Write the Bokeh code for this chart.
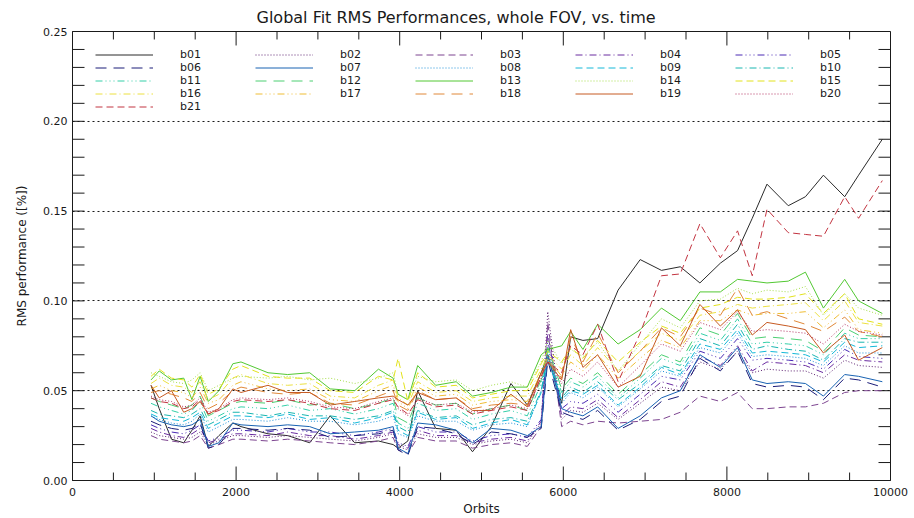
from bokeh.plotting import figure
from bokeh.models import (FixedTicker, Legend, LegendItem, Range1d,
                          NumeralTickFormatter)
from bokeh.embed import file_html
from bokeh.resources import INLINE

FONT = "DejaVu Sans"
INK = "#1a1a1a"

# Orbit numbers of the sampled fits
orbits = [960, 1060, 1210, 1360, 1460, 1560, 1660, 1790, 1960, 2060,
          2390, 2630, 2900, 3150, 3450, 3740, 3920, 3980, 4100, 4220,
          4440, 4690, 4890, 5120, 5360, 5560, 5730, 5810, 5980, 6090,
          6240, 6420, 6670, 6940, 7200, 7430, 7670, 7920, 8130, 8310,
          8490, 8750, 8960, 9180, 9440, 9610, 9900]

bands = ["b01", "b02", "b03", "b04", "b05", "b06", "b07", "b08", "b09", "b10",
         "b11", "b12", "b13", "b14", "b15", "b16", "b17", "b18", "b19", "b20", "b21"]

# RMS performance [%] per band
b01 = [0.053, 0.040, 0.023, 0.021, 0.028, 0.036, 0.019, 0.025, 0.032, 0.030,
       0.026, 0.025, 0.021, 0.036, 0.021, 0.022, 0.020, 0.018, 0.022, 0.050,
       0.029, 0.028, 0.016, 0.030, 0.054, 0.042, 0.060, 0.070, 0.043, 0.080,
       0.078, 0.079, 0.106, 0.123, 0.117, 0.119, 0.110, 0.121, 0.128, 0.146,
       0.165, 0.153, 0.158, 0.170, 0.158, 0.170, 0.190]
b02 = [0.027, 0.025, 0.024, 0.023, 0.024, 0.027, 0.020, 0.022, 0.025, 0.025,
       0.024, 0.025, 0.024, 0.023, 0.022, 0.024, 0.026, 0.019, 0.017, 0.026,
       0.024, 0.024, 0.020, 0.022, 0.023, 0.021, 0.032, 0.094, 0.034, 0.039,
       0.038, 0.043, 0.034, 0.043, 0.052, 0.050, 0.066, 0.062, 0.072, 0.060,
       0.062, 0.061, 0.061, 0.057, 0.067, 0.064, 0.063]
b03 = [0.025, 0.023, 0.022, 0.021, 0.022, 0.025, 0.018, 0.020, 0.023, 0.023,
       0.022, 0.023, 0.022, 0.021, 0.020, 0.022, 0.024, 0.017, 0.015, 0.024,
       0.022, 0.022, 0.018, 0.020, 0.021, 0.019, 0.030, 0.088, 0.030, 0.033,
       0.031, 0.033, 0.032, 0.033, 0.034, 0.038, 0.047, 0.044, 0.049, 0.040,
       0.040, 0.041, 0.041, 0.043, 0.049, 0.050, 0.050]
b04 = [0.029, 0.027, 0.025, 0.024, 0.026, 0.029, 0.021, 0.023, 0.026, 0.026,
       0.025, 0.027, 0.025, 0.025, 0.023, 0.025, 0.027, 0.020, 0.018, 0.028,
       0.025, 0.025, 0.021, 0.023, 0.024, 0.022, 0.033, 0.082, 0.036, 0.041,
       0.040, 0.045, 0.035, 0.045, 0.055, 0.052, 0.069, 0.064, 0.075, 0.061,
       0.066, 0.065, 0.064, 0.060, 0.070, 0.067, 0.066]
b05 = [0.031, 0.029, 0.027, 0.026, 0.028, 0.031, 0.022, 0.024, 0.028, 0.028,
       0.027, 0.029, 0.027, 0.027, 0.025, 0.027, 0.029, 0.021, 0.019, 0.030,
       0.027, 0.027, 0.022, 0.025, 0.026, 0.024, 0.034, 0.078, 0.040, 0.044,
       0.043, 0.048, 0.038, 0.048, 0.058, 0.056, 0.072, 0.068, 0.079, 0.067,
       0.068, 0.067, 0.066, 0.062, 0.073, 0.069, 0.068]
b06 = [0.033, 0.031, 0.029, 0.028, 0.029, 0.032, 0.018, 0.020, 0.029, 0.029,
       0.028, 0.029, 0.028, 0.024, 0.025, 0.026, 0.028, 0.017, 0.014, 0.030,
       0.029, 0.026, 0.020, 0.027, 0.026, 0.024, 0.029, 0.067, 0.038, 0.036,
       0.034, 0.039, 0.028, 0.034, 0.044, 0.047, 0.068, 0.061, 0.072, 0.054,
       0.052, 0.053, 0.052, 0.045, 0.057, 0.056, 0.052]
b07 = [0.036, 0.033, 0.031, 0.030, 0.031, 0.034, 0.019, 0.021, 0.032, 0.031,
       0.030, 0.031, 0.030, 0.026, 0.027, 0.028, 0.030, 0.018, 0.015, 0.032,
       0.031, 0.028, 0.021, 0.029, 0.028, 0.025, 0.030, 0.070, 0.040, 0.038,
       0.036, 0.041, 0.029, 0.036, 0.046, 0.050, 0.070, 0.063, 0.074, 0.056,
       0.054, 0.055, 0.054, 0.047, 0.059, 0.058, 0.055]
b08 = [0.036, 0.034, 0.032, 0.031, 0.033, 0.037, 0.027, 0.030, 0.034, 0.034,
       0.033, 0.035, 0.033, 0.033, 0.031, 0.033, 0.036, 0.026, 0.024, 0.036,
       0.033, 0.033, 0.028, 0.031, 0.032, 0.030, 0.050, 0.074, 0.043, 0.049,
       0.046, 0.052, 0.041, 0.051, 0.061, 0.058, 0.074, 0.071, 0.082, 0.069,
       0.070, 0.069, 0.068, 0.064, 0.075, 0.071, 0.071]
b09 = [0.037, 0.035, 0.034, 0.033, 0.035, 0.038, 0.029, 0.032, 0.036, 0.036,
       0.035, 0.037, 0.034, 0.035, 0.032, 0.035, 0.038, 0.028, 0.025, 0.038,
       0.034, 0.035, 0.029, 0.032, 0.034, 0.031, 0.049, 0.068, 0.045, 0.050,
       0.048, 0.053, 0.042, 0.052, 0.063, 0.059, 0.076, 0.073, 0.084, 0.071,
       0.072, 0.071, 0.070, 0.066, 0.077, 0.074, 0.075]
b10 = [0.039, 0.037, 0.036, 0.035, 0.037, 0.040, 0.031, 0.034, 0.038, 0.038,
       0.036, 0.038, 0.036, 0.036, 0.034, 0.036, 0.039, 0.030, 0.027, 0.039,
       0.035, 0.036, 0.031, 0.034, 0.035, 0.033, 0.050, 0.070, 0.046, 0.052,
       0.049, 0.055, 0.045, 0.054, 0.064, 0.061, 0.079, 0.075, 0.087, 0.073,
       0.075, 0.073, 0.072, 0.067, 0.079, 0.077, 0.077]
b11 = [0.043, 0.041, 0.039, 0.037, 0.039, 0.044, 0.033, 0.036, 0.040, 0.041,
       0.040, 0.042, 0.039, 0.040, 0.037, 0.040, 0.043, 0.032, 0.029, 0.043,
       0.039, 0.040, 0.034, 0.037, 0.039, 0.036, 0.054, 0.072, 0.049, 0.055,
       0.052, 0.058, 0.046, 0.057, 0.068, 0.064, 0.082, 0.078, 0.090, 0.076,
       0.077, 0.076, 0.075, 0.070, 0.082, 0.079, 0.079]
b12 = [0.046, 0.044, 0.042, 0.040, 0.042, 0.047, 0.036, 0.039, 0.043, 0.044,
       0.043, 0.045, 0.042, 0.043, 0.040, 0.043, 0.046, 0.035, 0.032, 0.046,
       0.042, 0.043, 0.037, 0.040, 0.042, 0.039, 0.056, 0.074, 0.051, 0.057,
       0.054, 0.060, 0.048, 0.059, 0.070, 0.066, 0.085, 0.081, 0.093, 0.079,
       0.080, 0.079, 0.078, 0.072, 0.085, 0.081, 0.080]
b13 = [0.056, 0.061, 0.056, 0.057, 0.045, 0.058, 0.044, 0.050, 0.065, 0.066,
       0.060, 0.059, 0.060, 0.051, 0.050, 0.062, 0.057, 0.048, 0.045, 0.064,
       0.053, 0.055, 0.047, 0.049, 0.052, 0.052, 0.070, 0.073, 0.075, 0.083,
       0.073, 0.087, 0.076, 0.084, 0.096, 0.089, 0.105, 0.105, 0.112, 0.111,
       0.110, 0.111, 0.116, 0.096, 0.112, 0.100, 0.093]
b14 = [0.060, 0.058, 0.055, 0.054, 0.056, 0.060, 0.050, 0.053, 0.057, 0.058,
       0.057, 0.058, 0.056, 0.057, 0.054, 0.057, 0.060, 0.048, 0.045, 0.058,
       0.055, 0.056, 0.050, 0.053, 0.055, 0.052, 0.066, 0.078, 0.065, 0.073,
       0.069, 0.077, 0.061, 0.076, 0.090, 0.085, 0.100, 0.101, 0.107, 0.104,
       0.106, 0.105, 0.108, 0.092, 0.104, 0.096, 0.092]
b15 = [0.058, 0.062, 0.057, 0.056, 0.052, 0.059, 0.048, 0.051, 0.062, 0.064,
       0.058, 0.057, 0.057, 0.050, 0.049, 0.058, 0.056, 0.068, 0.044, 0.060,
       0.052, 0.053, 0.046, 0.048, 0.050, 0.050, 0.065, 0.072, 0.066, 0.074,
       0.068, 0.078, 0.066, 0.077, 0.086, 0.082, 0.096, 0.098, 0.102, 0.101,
       0.101, 0.102, 0.104, 0.093, 0.104, 0.090, 0.087]
b16 = [0.054, 0.057, 0.053, 0.052, 0.049, 0.055, 0.045, 0.048, 0.057, 0.059,
       0.054, 0.053, 0.054, 0.047, 0.046, 0.053, 0.056, 0.046, 0.042, 0.055,
       0.049, 0.050, 0.044, 0.046, 0.047, 0.047, 0.062, 0.070, 0.062, 0.070,
       0.064, 0.074, 0.061, 0.072, 0.082, 0.078, 0.092, 0.094, 0.098, 0.096,
       0.097, 0.098, 0.099, 0.089, 0.100, 0.088, 0.086]
b17 = [0.051, 0.053, 0.050, 0.049, 0.046, 0.052, 0.043, 0.045, 0.053, 0.055,
       0.051, 0.050, 0.051, 0.045, 0.044, 0.050, 0.053, 0.044, 0.040, 0.052,
       0.047, 0.048, 0.042, 0.044, 0.045, 0.044, 0.060, 0.068, 0.058, 0.066,
       0.061, 0.070, 0.057, 0.068, 0.078, 0.074, 0.089, 0.089, 0.095, 0.092,
       0.093, 0.093, 0.094, 0.085, 0.095, 0.084, 0.082]
b18 = [0.049, 0.050, 0.048, 0.046, 0.044, 0.049, 0.040, 0.043, 0.050, 0.052,
       0.049, 0.048, 0.049, 0.043, 0.042, 0.047, 0.050, 0.042, 0.039, 0.050,
       0.045, 0.046, 0.040, 0.042, 0.043, 0.042, 0.058, 0.067, 0.057, 0.080,
       0.066, 0.082, 0.060, 0.072, 0.085, 0.080, 0.096, 0.092, 0.107, 0.092,
       0.094, 0.090, 0.087, 0.083, 0.091, 0.083, 0.080]
b19 = [0.053, 0.046, 0.050, 0.038, 0.040, 0.044, 0.037, 0.040, 0.051, 0.049,
       0.053, 0.049, 0.049, 0.042, 0.044, 0.046, 0.047, 0.045, 0.042, 0.049,
       0.045, 0.046, 0.039, 0.039, 0.048, 0.041, 0.060, 0.066, 0.056, 0.084,
       0.063, 0.070, 0.052, 0.058, 0.085, 0.075, 0.098, 0.086, 0.095, 0.081,
       0.088, 0.086, 0.084, 0.071, 0.081, 0.067, 0.074]
b20 = [0.047, 0.045, 0.044, 0.041, 0.042, 0.046, 0.038, 0.040, 0.045, 0.046,
       0.045, 0.046, 0.044, 0.041, 0.040, 0.044, 0.046, 0.040, 0.036, 0.046,
       0.042, 0.043, 0.038, 0.040, 0.042, 0.040, 0.057, 0.070, 0.054, 0.062,
       0.058, 0.066, 0.052, 0.064, 0.076, 0.072, 0.088, 0.084, 0.094, 0.083,
       0.084, 0.083, 0.082, 0.076, 0.087, 0.083, 0.081]
b21 = [0.046, 0.044, 0.043, 0.040, 0.041, 0.045, 0.037, 0.039, 0.044, 0.045,
       0.044, 0.045, 0.043, 0.040, 0.039, 0.043, 0.045, 0.041, 0.037, 0.045,
       0.041, 0.042, 0.037, 0.039, 0.041, 0.039, 0.058, 0.066, 0.060, 0.075,
       0.070, 0.087, 0.055, 0.082, 0.114, 0.115, 0.143, 0.124, 0.139, 0.114,
       0.151, 0.138, 0.137, 0.136, 0.158, 0.146, 0.167]

series = [b01, b02, b03, b04, b05, b06, b07, b08, b09, b10, b11,
          b12, b13, b14, b15, b16, b17, b18, b19, b20, b21]

# rainbow palette, dark -> violet -> blue -> cyan -> green -> yellow -> red
colors = ["#2a2a2a", "#5c2070", "#7d4590", "#6a2ca0", "#4a2ab4", "#1a1c78", "#1862b2",
          "#1c90d8", "#14b8d8", "#18b6b0", "#34cfa8", "#4ccf72", "#52c832", "#a6de4c",
          "#e2e21c", "#ece040", "#efbd34", "#e08838", "#c65a22", "#b33262", "#c23440"]

# solid, dotted, dashed, dash-dot, dash-dot-dot-dot, long dashes
styles = ["solid", "1 2", "7 4", "7 3 1 3", "7 3 1 3 1 3 1 3", "11 7"]

X0, X1 = 0, 10000
Y0, Y1 = 0.0, 0.25
y_major = [0.0, 0.05, 0.10, 0.15, 0.20, 0.25]
y_minor = [i / 100 for i in range(0, 26)]
x_major = [0, 2000, 4000, 6000, 8000, 10000]
x_minor = list(range(0, 10001, 500))

FRAME_W, FRAME_H = 818, 450   # plot-area size in pixels

p = figure(width=914, height=518, output_backend="svg", toolbar_location=None,
           x_range=Range1d(X0, X1), y_range=Range1d(Y0, Y1),
           min_border_left=72, min_border_right=24, min_border_top=31,
           min_border_bottom=38,
           title="Global Fit RMS Performances, whole FOV, vs. time")

p.title.text_font = FONT
p.title.text_font_size = "16px"
p.title.text_font_style = "normal"
p.title.text_color = INK
p.title.align = "left"
p.title.offset = 184

p.background_fill_color = "white"
p.border_fill_color = "white"
p.outline_line_color = INK
p.outline_line_width = 1

p.xgrid.visible = False
p.ygrid.grid_line_color = INK
p.ygrid.grid_line_dash = "2 3"
p.ygrid.grid_line_width = 1.2
p.ygrid.ticker = FixedTicker(ticks=y_major)


def style_axis(ax):
    ax.major_tick_in = 0
    ax.major_tick_out = 0
    ax.minor_tick_in = 0
    ax.minor_tick_out = 0
    ax.axis_line_color = INK
    ax.major_label_text_font = FONT
    ax.major_label_text_font_size = "11px"
    ax.major_label_text_color = INK
    ax.axis_label_text_font = FONT
    ax.axis_label_text_font_size = "12px"
    ax.axis_label_text_font_style = "normal"
    ax.axis_label_text_color = INK


xa = p.xaxis[0]
xa.ticker = FixedTicker(ticks=x_major, minor_ticks=x_minor)
xa.formatter = NumeralTickFormatter(format="0")
xa.axis_label = "Orbits"
style_axis(xa)
xa.major_label_standoff = 7
xa.axis_label_standoff = 3

ya = p.yaxis[0]
ya.ticker = FixedTicker(ticks=y_major, minor_ticks=y_minor)
ya.formatter = NumeralTickFormatter(format="0.00")
ya.axis_label = "RMS performance ([%])"
style_axis(ya)
ya.major_label_standoff = 5
ya.axis_label_standoff = 11

# inward box ticks on all four sides, built from the tick lists
# (lengths given in pixels, converted to data units)
dx = (X1 - X0) / FRAME_W
dy = (Y1 - Y0) / FRAME_H
x_len = [14 * dy if t in x_major else 8 * dy for t in x_minor]
y_len = [12 * dx for _ in y_minor]

p.segment(x0=x_minor, y0=[Y0] * len(x_minor), x1=x_minor,
          y1=[Y0 + L for L in x_len], line_color=INK, line_width=1)
p.segment(x0=x_minor, y0=[Y1] * len(x_minor), x1=x_minor,
          y1=[Y1 - L for L in x_len], line_color=INK, line_width=1)
p.segment(x0=[X0] * len(y_minor), y0=y_minor, x1=[X0 + L for L in y_len],
          y1=y_minor, line_color=INK, line_width=1)
p.segment(x0=[X1] * len(y_minor), y0=y_minor, x1=[X1 - L for L in y_len],
          y1=y_minor, line_color=INK, line_width=1)

items = []
for i, (name, ys, col) in enumerate(zip(bands, series, colors)):
    r = p.line(orbits, ys, line_color=col, line_width=1,
               line_dash=styles[i % len(styles)])
    items.append(LegendItem(label=name, renderers=[r]))

legend = Legend(items=items, ncols=5, orientation="horizontal",
                location=(23, 367), glyph_width=58, glyph_height=13,
                label_standoff=27, label_width=75, label_height=13,
                spacing=0, padding=0, margin=0,
                border_line_alpha=0, background_fill_alpha=0,
                label_text_font=FONT, label_text_font_size="11px",
                label_text_color=INK)
p.add_layout(legend)

open("out.html", "w").write(file_html(p, INLINE))
